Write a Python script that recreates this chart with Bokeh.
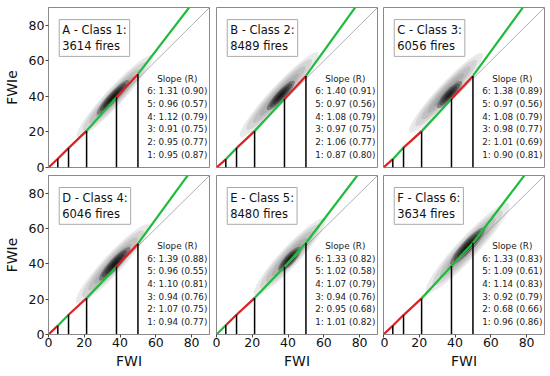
import math
from bokeh.plotting import figure
from bokeh.layouts import column, row
from bokeh.models import Label, Range1d, FixedTicker
from bokeh.core.properties import value
from bokeh.embed import file_html
from bokeh.resources import INLINE

# ---------------- data ----------------
panel_letters = ["A", "B", "C", "D", "E", "F"]
fire_counts = [3614, 8489, 6056, 6046, 8480, 3634]
class_bounds = [0, 5.2, 11.2, 21.3, 38, 50]
x_end = 90
ticks = [0, 20, 40, 60, 80]

# slopes for class 1..6 per panel
slopes_A = [0.95, 0.95, 0.91, 1.12, 0.96, 1.31]
slopes_B = [0.87, 1.06, 0.97, 1.08, 0.97, 1.40]
slopes_C = [0.90, 1.01, 0.98, 1.08, 0.97, 1.38]
slopes_D = [0.94, 1.07, 0.94, 1.10, 0.96, 1.39]
slopes_E = [1.01, 0.95, 0.94, 1.07, 1.02, 1.33]
slopes_F = [0.96, 0.68, 0.92, 1.14, 1.09, 1.33]
# correlation R for class 1..6 per panel
r_A = [0.87, 0.77, 0.75, 0.79, 0.57, 0.90]
r_B = [0.80, 0.77, 0.75, 0.79, 0.56, 0.91]
r_C = [0.81, 0.69, 0.77, 0.79, 0.56, 0.89]
r_D = [0.77, 0.75, 0.76, 0.81, 0.55, 0.88]
r_E = [0.82, 0.68, 0.76, 0.79, 0.58, 0.82]
r_F = [0.86, 0.66, 0.79, 0.83, 0.61, 0.83]
# fitted FWIe at the class bounds
nodes_A = [0, 4.9, 10.9, 20.6, 39.5, 52.5]
nodes_B = [0, 4.6, 10.9, 20.4, 38.6, 51.5]
nodes_C = [0, 4.7, 11.2, 20.3, 38.5, 51.5]
nodes_D = [0, 5.0, 11.2, 20.5, 38.4, 51.4]
nodes_E = [0, 5.2, 11.2, 20.6, 38.4, 51.8]
nodes_F = [0, 5.0, 11.0, 20.4, 38.8, 51.8]
# density cloud: outer (cx, cy, length, width), core (cx, cy, length, width)
cloud_outer = [(37, 40, 62, 10), (35, 41, 64, 10), (35, 42, 60, 10),
               (36, 40, 60, 11), (41, 44, 58, 11), (47, 49, 68, 12)]
cloud_core = [(36, 39.5, 26, 5.5), (36, 40.5, 22, 5.5), (37, 41, 20, 5.5),
              (37, 40, 25, 6), (41, 42.5, 18, 6), (47, 50, 28, 6.5)]

all_slopes = [slopes_A, slopes_B, slopes_C, slopes_D, slopes_E, slopes_F]
all_r = [r_A, r_B, r_C, r_D, r_E, r_F]
all_nodes = [nodes_A, nodes_B, nodes_C, nodes_D, nodes_E, nodes_F]

GREEN = "#1fbb3c"
RED = "#dd2020"
FONT = "DejaVu Sans"


def make_panel(i):
    top = i < 3
    col = i % 3
    left = col == 0
    mbl = [48, 4, 3][col]
    mbr = [3, 3, 6][col]
    frame_w = 161
    frame_h = 160 if top else 159
    mbt = 7 if top else 0
    mbb = 8 if top else 42
    p = figure(width=mbl + frame_w + mbr, height=mbt + frame_h + mbb,
               x_range=Range1d(0, 90), y_range=Range1d(0, 90),
               output_backend="svg", toolbar_location=None,
               min_border_left=mbl, min_border_right=mbr,
               min_border_top=mbt, min_border_bottom=mbb,
               background_fill_color="white", border_fill_color="white")
    p.outline_line_color = "#8a8a8a"
    p.outline_line_width = 1
    p.grid.visible = False
    for ax in (p.xaxis[0], p.yaxis[0]):
        ax.ticker = FixedTicker(ticks=ticks)
        ax.minor_tick_line_color = None
        ax.major_tick_out = 3
        ax.major_tick_in = 0
        ax.major_tick_line_color = "#444"
        ax.axis_line_color = "#8a8a8a"
        ax.major_label_text_font = FONT
        ax.major_label_text_font_size = "12.5px"
        ax.major_label_text_color = "#111"
        ax.axis_label_text_font = FONT
        ax.axis_label_text_font_size = "14px"
        ax.axis_label_text_font_style = "normal"
        ax.axis_label_text_color = "#111"
    p.xaxis.visible = not top
    p.yaxis.visible = left
    p.xaxis.axis_label = "FWI"
    p.xaxis.major_label_standoff = 0
    p.xaxis.axis_label_standoff = 3
    p.yaxis.axis_label = "FWIe"
    p.yaxis.major_label_standoff = 1
    p.yaxis.axis_label_standoff = 6

    # density cloud
    ang = math.atan(1.08)
    ocx, ocy, olen, owid = cloud_outer[i]
    n = 6
    for k in range(n):
        f = 1 - k / n
        p.ellipse(x=[ocx], y=[ocy], width=[olen * f], height=[owid * f],
                  angle=ang, fill_color="black", fill_alpha=0.085, line_color=None)
    ccx, ccy, clen, cwid = cloud_core[i]
    for k in range(5):
        f = 1 - k / 5
        p.ellipse(x=[ccx], y=[ccy], width=[clen * f], height=[cwid * f],
                  angle=ang, fill_color="black", fill_alpha=0.3, line_color=None)

    # 1:1 line
    p.line(x=[0, x_end], y=[0, x_end], line_color="#999999", line_width=0.8)

    # piecewise fitted line
    sl = all_slopes[i]
    nd = all_nodes[i]
    xs0 = class_bounds[:]
    xs1 = class_bounds[1:] + [x_end]
    ys0 = nd[:]
    ys1 = nd[1:] + [nd[-1] + sl[-1] * (x_end - class_bounds[-1])]
    colors = [GREEN if s > 1 else RED for s in sl]
    p.segment(x0=xs0, y0=ys0, x1=xs1, y1=ys1, line_color=colors, line_width=2.2)

    # class boundary verticals
    bx = class_bounds[1:]
    p.segment(x0=bx, y0=[0] * len(bx), x1=bx, y1=nd[1:], line_color="black", line_width=1.5)

    # slope text
    rr = all_r[i]
    texts = ["Slope (R)"] + [f"{c}: {sl[c-1]:.2f} ({rr[c-1]:.2f})" for c in range(6, 0, -1)]
    ys = [50, 43, 35.8, 28.6, 21.4, 14.2, 7.0]
    p.text(x=[72] * len(texts), y=ys, text=texts, text_font=value(FONT),
           text_font_size="8.8px", text_align="center", text_baseline="middle",
           text_color="#222")

    lab = Label(x=6, y=83.2, text=f"{panel_letters[i]} - Class {i+1}:\n{fire_counts[i]} fires",
                text_font=FONT, text_font_size="11.5px", text_baseline="top",
                text_align="left", text_color="#111",
                background_fill_color="white", border_line_color="#aaaaaa",
                border_line_width=1, padding=3)
    p.add_layout(lab)
    return p


panels = [make_panel(i) for i in range(6)]
layout = column(row(*panels[:3]), row(*panels[3:]))

with open("out.html", "w") as fh:
    fh.write(file_html(layout, INLINE))
